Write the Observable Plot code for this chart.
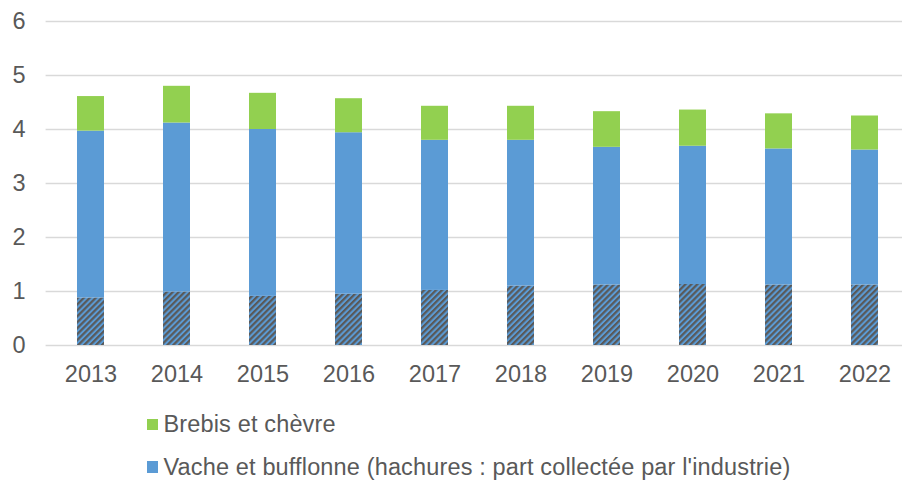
<!DOCTYPE html>
<html>
<head>
<meta charset="utf-8">
<script src="https://cdn.jsdelivr.net/npm/d3@7"></script>
<script src="https://cdn.jsdelivr.net/npm/@observablehq/plot@0.6"></script>
<style>
  html, body { margin: 0; padding: 0; background: #fff; }
  #wrap { position: relative; width: 902px; height: 480px; font-family: "Liberation Sans", Arial, sans-serif; color: #595959; }
  .leg { position: absolute; left: 146.5px; height: 24px; display: flex; align-items: center; font-size: 23.5px; letter-spacing: 0.15px; white-space: nowrap; }
  .sw { width: 11.5px; height: 11.5px; margin-right: 5.5px; flex: none; }
</style>
</head>
<body>
<div id="wrap">
  <div id="chart"></div>
  <div class="leg" style="top:412.5px;"><div class="sw" style="background:#92D050"></div><span>Brebis et chèvre</span></div>
  <div class="leg" style="top:455px;"><div class="sw" style="background:#5B9BD5"></div><span>Vache et bufflonne (hachures : part collectée par l'industrie)</span></div>
</div>
<script>
const years = ["2013","2014","2015","2016","2017","2018","2019","2020","2021","2022"];
const industryCow = [0.88, 0.99, 0.91, 0.95, 1.02, 1.10, 1.12, 1.13, 1.12, 1.12];
const cowTotal    = [3.97, 4.12, 4.00, 3.94, 3.80, 3.80, 3.67, 3.69, 3.64, 3.62];
const sheepGoat   = [0.64, 0.68, 0.67, 0.63, 0.63, 0.63, 0.66, 0.67, 0.65, 0.63];
const yTicks = [0, 1, 2, 3, 4, 5, 6];

const HATCH = "#010203";
const rows = [];
years.forEach((y, i) => {
  rows.push({year: y, part: "industry", value: industryCow[i], color: HATCH});
  rows.push({year: y, part: "cowRest", value: cowTotal[i] - industryCow[i], color: "#5B9BD5"});
  rows.push({year: y, part: "sheep", value: sheepGoat[i], color: "#92D050"});
});

const chart = Plot.plot({
  width: 902,
  height: 395,
  marginTop: 21,
  marginBottom: 50,
  marginLeft: 45.6,
  marginRight: 0,
  style: {fontFamily: "'Liberation Sans', Arial, sans-serif", fontSize: "23.5px", color: "#595959", background: "#fff"},
  x: {type: "band", domain: years, range: [45.6, 910], paddingInner: 0.688, paddingOuter: 0.344, label: null},
  y: {domain: [0, 6], label: null},
  color: {type: "identity"},
  marks: [
    Plot.ruleY(yTicks, {stroke: "#D9D9D9", strokeWidth: 1.3}),
    Plot.barY(rows, Plot.stackY({x: "year", y: "value", fill: "color", order: null})),
    Plot.axisY({ticks: yTicks, tickSize: 0, tickPadding: 20.5, tickFormat: d3.format("d"), fill: "#595959", fontSize: 23.5, label: null}),
    Plot.axisX({tickSize: 0, tickPadding: 20, fill: "#595959", fontSize: 23.5, label: null})
  ]
});

// hatch pattern for the industry-collected part
const ns = "http://www.w3.org/2000/svg";
const defs = document.createElementNS(ns, "defs");
defs.innerHTML = `<pattern id="hatch" patternUnits="userSpaceOnUse" width="4.2" height="4.2" patternTransform="rotate(45)">
  <rect width="4.2" height="4.2" fill="#5B9BD5"></rect>
  <rect width="2.2" height="4.2" fill="#595959"></rect>
</pattern>`;
chart.insertBefore(defs, chart.firstChild);
chart.querySelectorAll("[fill]").forEach(el => {
  const f = (el.getAttribute("fill") || "").toLowerCase();
  if (f === HATCH || f === "rgb(1, 2, 3)") el.setAttribute("fill", "url(#hatch)");
});
document.getElementById("chart").appendChild(chart);
</script>
</body>
</html>
